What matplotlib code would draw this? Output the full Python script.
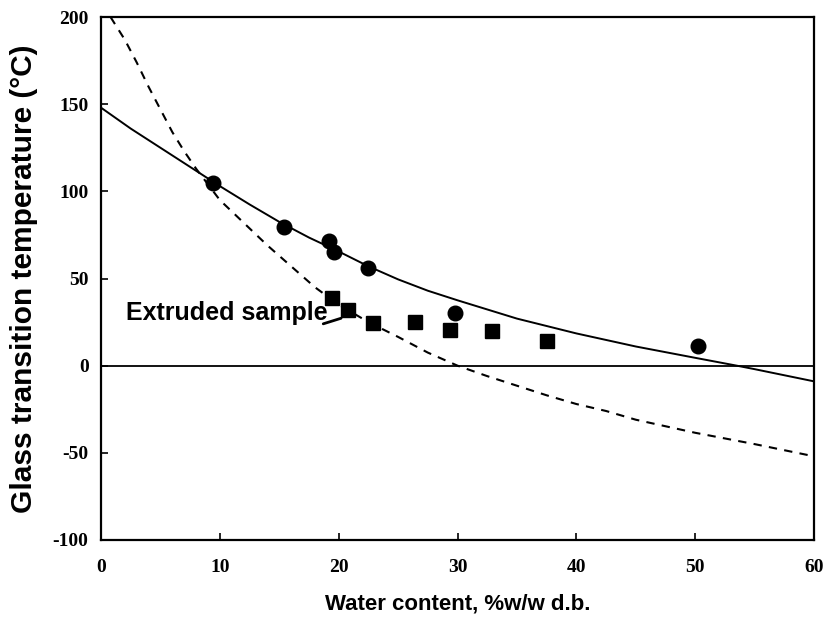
import matplotlib.pyplot as plt
import numpy as np

plt.rcParams['axes.unicode_minus'] = False

# measured Tg, non-extruded material (circles)
water_meas = [9.4, 15.4, 19.2, 19.6, 22.5, 29.8, 50.2]
tg_meas = [105, 79.5, 71.5, 65, 56, 30, 11]

# extruded sample (squares)
water_ext = [19.4, 20.8, 22.9, 26.4, 29.4, 32.9, 37.5]
tg_ext = [38.7, 32, 24.7, 25.2, 20.5, 20, 14.3]

# fitted curve, solid
fit_x = [0, 2.5, 5, 7.5, 10, 12.5, 15, 17.5, 20, 22.5, 25, 27.5, 30, 35, 40, 45, 50, 53.5, 55, 60]
fit_y = [148, 136, 125, 114, 103, 92.5, 82.5, 73.5, 65.5, 57, 49.5, 43, 37.5, 27, 18.5, 11, 4.5, 0, -2, -9]

# predicted curve, dashed
pred_x = [0.8, 2, 3, 4, 5, 6, 7, 8, 10, 12, 14, 16, 18, 20, 22.5, 25, 27.5, 30, 32.5, 35, 37.5, 40, 42.5, 45, 50, 55, 60]
pred_y = [200, 187, 174, 160, 147, 134, 123, 113, 95, 82, 69, 57, 45, 35, 25, 16.5, 7.5, 0, -6, -11.5, -17, -22, -26, -31, -38.5, -45, -52]

fig = plt.figure(figsize=(8.26, 6.26), dpi=100)
ax = fig.add_axes([0.1223, 0.1374, 0.8632, 0.8354])

ax.axhline(0, color='black', lw=1.3)
ax.plot(fit_x, fit_y, color='black', lw=1.4)
ax.plot(pred_x, pred_y, color='black', lw=1.5, dashes=(4, 3.5))
ax.plot(water_meas, tg_meas, 'o', color='black', ms=10.5)
ax.plot(water_ext, tg_ext, 's', color='black', ms=10.5)

# label plus a short leader line to the extruded points
ax.text(2.1, 30, 'Extruded sample', fontsize=18, fontweight='bold',
        family='Liberation Sans', va='center', ha='left')
ax.annotate('', xy=(20.2, 27.2), xytext=(18.7, 24),
            arrowprops=dict(arrowstyle='-', color='black', lw=2, shrinkA=0, shrinkB=0))

ax.set_xlim(0, 60)
ax.set_ylim(-100, 200)
ax.set_xticks(np.arange(0, 61, 10))
ax.set_yticks(np.arange(-100, 201, 50))
ax.tick_params(direction='in', length=5, width=1.2)
ax.tick_params(axis='x', pad=14)
ax.tick_params(axis='y', pad=9)
for lbl in ax.get_xticklabels() + ax.get_yticklabels():
    lbl.set_family('Liberation Serif')
    lbl.set_fontweight('bold')
    lbl.set_fontsize(14)
for s in ax.spines.values():
    s.set_linewidth(1.6)

ax.set_xlabel('Water content, %w/w d.b.', fontsize=16, fontweight='bold', family='Liberation Sans')
ax.set_ylabel('Glass transition temperature (\u00b0C)', fontsize=21.5, fontweight='bold', family='Liberation Sans')
ax.xaxis.set_label_coords(0.5, -0.102)
ax.yaxis.set_label_coords(-0.088, 0.5)

fig.savefig('out.png', dpi=100)
